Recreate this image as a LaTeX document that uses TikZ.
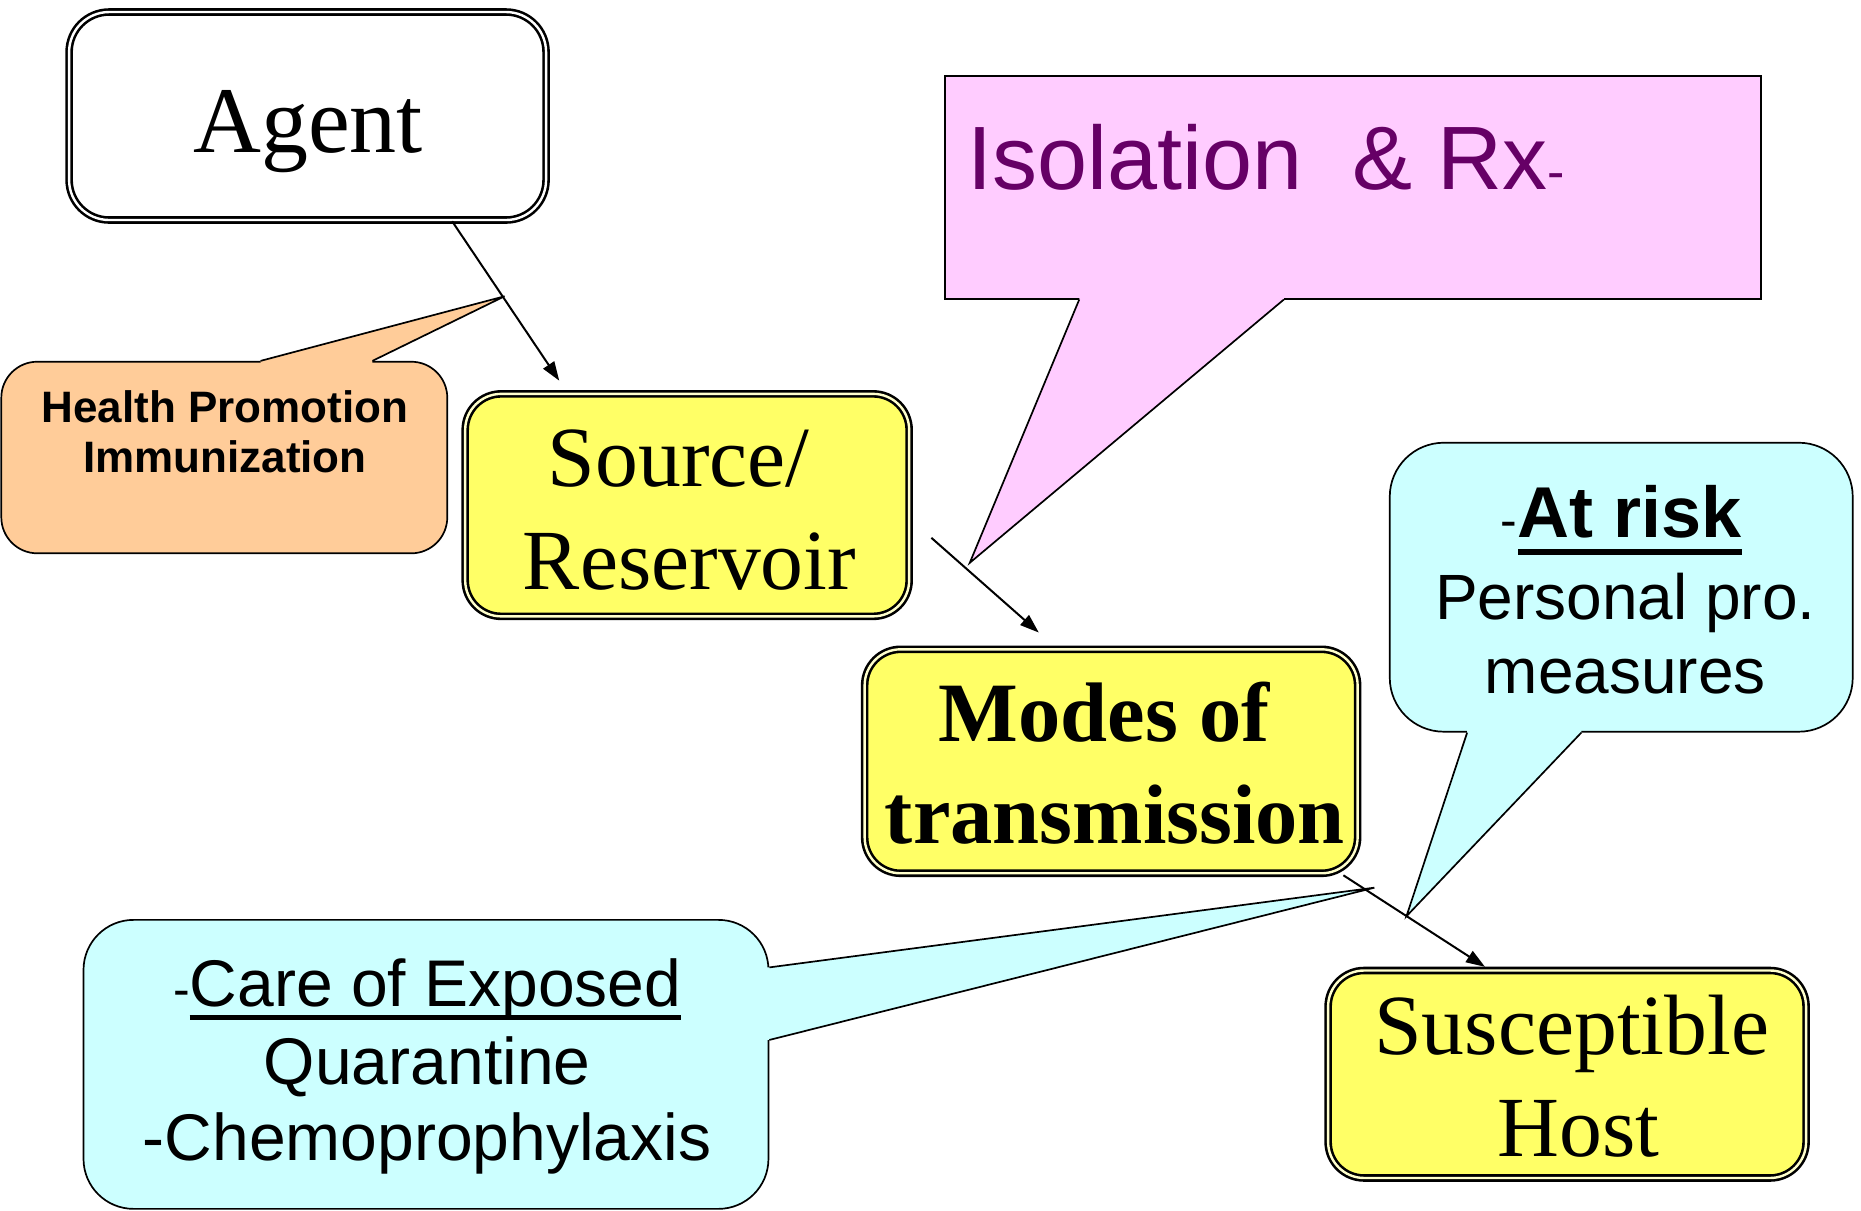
\documentclass[tikz,border=0pt]{standalone}
\usepackage{fontspec}
\setmainfont{Liberation Serif}
\newfontfamily\comicfont{Liberation Sans}
\usetikzlibrary{arrows.meta,calc}
\definecolor{boxyellow}{HTML}{FFFF66}
\definecolor{gapyellow}{HTML}{FFFFCC}
\definecolor{calloutorange}{HTML}{FFCC99}
\definecolor{calloutpink}{HTML}{FFCCFF}
\definecolor{calloutcyan}{HTML}{CCFFFF}
\definecolor{isopurple}{HTML}{660066}
\newcommand\thickul[3]{\setbox0=\hbox{#3}\rlap{\rule[-#1]{\wd0}{#2}}\box0}
\begin{document}
\begin{tikzpicture}[x=1.19pt,y=-1.19pt,
  dbox/.style={draw=black, line width=2.6pt, double distance=2.4pt, rounded corners=36pt, inner sep=0pt},
  callout/.style={draw=black, line width=1.7pt, inner sep=0pt},
  ptr/.style={draw=black, line width=1.7pt},
  conn/.style={draw=black, line width=2pt, -{Triangle[length=19pt,width=13pt]}},
  serif/.style={anchor=base, inner sep=0pt, font=\fontsize{#1}{#1}\selectfont},
  serifb/.style={anchor=base, inner sep=0pt, font=\bfseries\fontsize{#1}{#1}\selectfont},
  comic/.style={anchor=base, inner sep=0pt, font=\comicfont\fontsize{#1}{#1}\selectfont}]
\useasboundingbox (0,0) rectangle (1564,1017);

% ---- callouts ----
\coordinate (hptip) at (424,249);
\coordinate (isotip) at (815,473);
\coordinate (risktip) at (1182,770);
\coordinate (caretip) at (1155,746);

\node[callout, fill=calloutorange, rounded corners=36pt, minimum width=446pt, minimum height=191.6pt] (health) at (188.5,384.5) {};
\fill[calloutorange] ($(health.north)+(30.5,0)$) -- (hptip) -- ($(health.north)+(124.5,0)$) -- ($(health.north)+(124.5,5)$) -- ($(health.north)+(30.5,5)$) -- cycle;
\draw[ptr] ($(health.north)+(30.5,0)$) -- (hptip) -- ($(health.north)+(124.5,0)$);

\node[callout, fill=calloutpink, minimum width=816pt, minimum height=222.5pt] (iso) at (1137,157.5) {};
\fill[calloutpink] ($(iso.south)+(-230,0)$) -- (isotip) -- ($(iso.south)+(-58,0)$) -- ($(iso.south)+(-58,-5)$) -- ($(iso.south)+(-230,-5)$) -- cycle;
\draw[ptr] ($(iso.south)+(-230,0)$) -- (isotip) -- ($(iso.south)+(-58,0)$);

\node[callout, fill=calloutcyan, rounded corners=54pt, minimum width=463pt, minimum height=289pt] (risk) at (1362.5,493.5) {};
\fill[calloutcyan] ($(risk.south)+(-129.5,0)$) -- (risktip) -- ($(risk.south)+(-33.5,0)$) -- ($(risk.south)+(-33.5,-5)$) -- ($(risk.south)+(-129.5,-5)$) -- cycle;
\draw[ptr] ($(risk.south)+(-129.5,0)$) -- (risktip) -- ($(risk.south)+(-33.5,0)$);

\node[callout, fill=calloutcyan, rounded corners=50pt, minimum width=685pt, minimum height=289pt] (care) at (358,894.5) {};
\fill[calloutcyan] ($(care.east)+(0,-81.5)$) -- (caretip) -- ($(care.east)+(0,-20.5)$) -- ($(care.east)+(-5,-20.5)$) -- ($(care.east)+(-5,-81.5)$) -- cycle;
\draw[ptr] ($(care.east)+(0,-81.5)$) -- (caretip) -- ($(care.east)+(0,-20.5)$);

% ---- main boxes ----
\node[dbox, fill=white, double=white, rounded corners=40pt, minimum width=477pt, minimum height=208pt] (agent) at (258.5,97.5) {};
\node[dbox, fill=boxyellow, double=gapyellow, minimum width=444pt, minimum height=222.5pt] (source) at (577.5,424.5) {};
\node[dbox, fill=boxyellow, double=gapyellow, minimum width=493pt, minimum height=224pt] (modes) at (933.8,639.8) {};
\node[dbox, fill=boxyellow, double=gapyellow, minimum width=478pt, minimum height=207.5pt] (host) at (1317,902.8) {};

% ---- texts ----
\node[serif=94pt] (agenttxt) at (259,128) {Agent};
\node[serif=85.7pt] (sourcetxt1) at (579.5,409) {Source/\hspace*{0.25em}};
\node[serif=85.7pt] (sourcetxt2) at (579.5,495) {Reservoir};
\node[serifb=84.5pt] (modestxt1) at (937,623.5) {Modes of\hspace*{0.25em}};
\node[serifb=84.5pt] (modestxt2) at (937,709) {transmission};
\node[serif=85.7pt] (hosttxt1) at (1321,886.6) {Susceptible};
\node[serif=85.7pt] (hosttxt2) at (1321,972) {\hspace*{0.15em}Host};

\node[comic=44pt, font=\comicfont\bfseries\fontsize{44pt}{44pt}\selectfont] (healthtxt1) at (189,355) {Health Promotion};
\node[comic=44pt, font=\comicfont\bfseries\fontsize{44pt}{44pt}\selectfont] (healthtxt2) at (189,397) {Immunization};

\node[comic=90pt, anchor=base west, text=isopurple] (isotxt) at (813,159) {Isolation\ \ \& Rx{\fontsize{52pt}{52pt}\selectfont -}};

\node[comic=72pt] (risktxt1) at (1362.5,452) {{\fontsize{50pt}{50pt}\selectfont -}\thickul{17pt}{6pt}{\bfseries At risk}};
\node[comic=64pt] (risktxt2) at (1366,521) {Personal pro.};
\node[comic=64pt] (risktxt3) at (1366,583) {measures};

\node[comic=66pt] (caretxt1) at (359,846) {{\fontsize{50pt}{50pt}\selectfont -}\thickul{13pt}{4.5pt}{Care of Exposed}};
\node[comic=66pt] (caretxt2) at (359,911) {Quarantine};
\node[comic=66pt] (caretxt3) at (359,975) {-Chemoprophylaxis};

% ---- connectors ----
\draw[conn] ($(agent.south)+(121.5,0)$) -- ($(source.north)+(-107.5,-10)$);
\draw[conn] ($(source.east)+(17.6,27.5)$) -- ($(modes.north)+(-60.8,-13)$);
\draw[conn] ($(modes.south)+(195.2,0.6)$) -- ($(host.north)+(-69,-2)$);
\end{tikzpicture}
\end{document}
